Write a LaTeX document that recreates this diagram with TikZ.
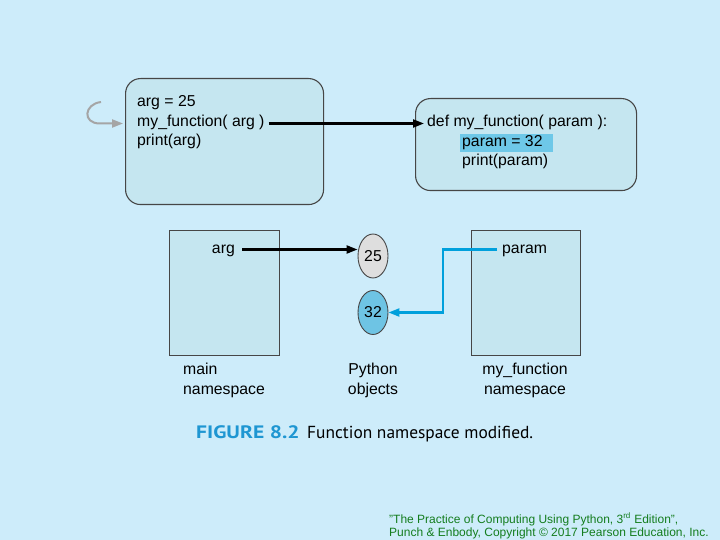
\documentclass[tikz,border=0pt]{standalone}
\usepackage{fontspec}
\setmainfont{Liberation Sans}
\newfontfamily\capfont{PT Sans}
\usetikzlibrary{arrows.meta,shapes.geometric}
\definecolor{bg}{RGB}{205,236,250}
\definecolor{boxfill}{RGB}{197,230,240}
\definecolor{boxline}{RGB}{70,70,70}
\definecolor{hl}{RGB}{110,200,232}
\definecolor{obj32}{RGB}{110,196,228}
\definecolor{obj25}{RGB}{222,222,222}
\definecolor{cyanline}{RGB}{0,160,220}
\definecolor{capblue}{RGB}{30,150,210}
\definecolor{footgreen}{RGB}{20,125,30}
\definecolor{grayarrow}{RGB}{165,165,165}
\begin{document}
\begin{tikzpicture}[x=1pt,y=-1pt,
  codebox/.style={draw=boxline,fill=boxfill,line width=1.1pt,rounded corners=15pt,anchor=north west,inner sep=0pt},
  nsbox/.style={draw=boxline,fill=boxfill,line width=1pt,anchor=north west,inner sep=0pt},
  code/.style={anchor=base west,inner sep=0pt,font=\fontsize{15.8}{18}\selectfont},
  lbl/.style={inner sep=0pt,font=\fontsize{15.8}{18}\selectfont},
  obj/.style={ellipse,draw=boxline,line width=0.9pt,minimum width=30pt,minimum height=44pt,inner sep=0pt,font=\fontsize{15.8}{18}\selectfont},
  blk/.style={-{Triangle[length=11pt,width=8pt]},line width=2.2pt,black},
  cyn/.style={-{Triangle[length=11pt,width=8pt]},line width=2.2pt,cyanline}
]
\fill[bg] (0,0) rectangle (720,540);
\useasboundingbox (0,0) rectangle (720,540);

% code boxes
\node[codebox,minimum width=198pt,minimum height=126pt] (main) at (125,78) {};
\node[codebox,minimum width=221pt,minimum height=92pt] (func) at (415,98) {};

\node[code] (l1) at (137,107) {arg = 25};
\node[code] (l2) at (137,127) {my\_function( arg )};
\node[code] (l3) at (137,146) {print(arg)};

\fill[hl] (460,134) rectangle (553,152);
\node[code] (d1) at (427,127) {def my\_function( param ):};
\node[code] (d2) at (462,147) {param = 32};
\node[code] (d3) at (462,166) {print(param)};

\draw[blk] ([xshift=4pt,yshift=3.5pt]l2.base east) -- ([xshift=-3pt,yshift=3.5pt]d1.base west);

% gray re-entry arrow
\coordinate (gs) at (101,102);
\coordinate (ge) at (123,123.5);
\draw[grayarrow,line width=2pt,-{Triangle[length=11pt,width=8pt]}]
  (gs) .. controls (84,104) and (82,123.5) .. (100,123.5) -- (ge);

% namespaces
\node[nsbox,minimum width=110pt,minimum height=125pt] (mns) at (169,230) {};
\node[nsbox,minimum width=109pt,minimum height=125pt] (fns) at (471,230) {};

\node[lbl,anchor=base east] (argn) at (235,254) {arg};
\node[lbl,anchor=base west] (paramn) at (502,254) {param};

\node[obj,fill=obj25] (o25) at (373,256) {25};
\node[obj,fill=obj32] (o32) at (373,312.5) {32};

\coordinate (as) at ([xshift=7pt,yshift=4.5pt]argn.base east);
\draw[blk] (as) -- (as -| o25.west);
\draw[cyn] ([xshift=-5pt,yshift=4.5pt]paramn.base west) -- ++(-54,0) |- (o32.east);

% labels
\node[lbl,anchor=base west] (mlab1) at (183,374) {main};
\node[lbl,anchor=base west] (mlab2) at (183,394) {namespace};
\node[lbl,anchor=base] (plab1) at (373,374) {Python};
\node[lbl,anchor=base] (plab2) at (373,394) {objects};
\node[lbl,anchor=base] (flab1) at (525,374) {my\_function};
\node[lbl,anchor=base] (flab2) at (525,394) {namespace};

% caption
\node[anchor=base west,inner sep=0pt,text=capblue,font=\capfont\bfseries\fontsize{18}{20}\selectfont] (capa) at (196,438)
  {\scalebox{1.2}[1]{FIGURE 8.2}};
\node[anchor=base west,inner sep=0pt,font=\capfont\fontsize{17.4}{20}\selectfont] (capb) at (307,438)
  {Function namespace modified.};

% footer
\node[anchor=base west,inner sep=0pt,text=footgreen,font=\fontsize{12}{14}\selectfont] (foot) at (389,523)
  {"The Practice of Computing Using Python, 3\textsuperscript{rd} Edition",};
\node[anchor=base west,inner sep=0pt,text=footgreen,font=\fontsize{12}{14}\selectfont] (foot2) at (389,536)
  {Punch \& Enbody, Copyright © 2017 Pearson Education, Inc.};
\end{tikzpicture}
\end{document}
